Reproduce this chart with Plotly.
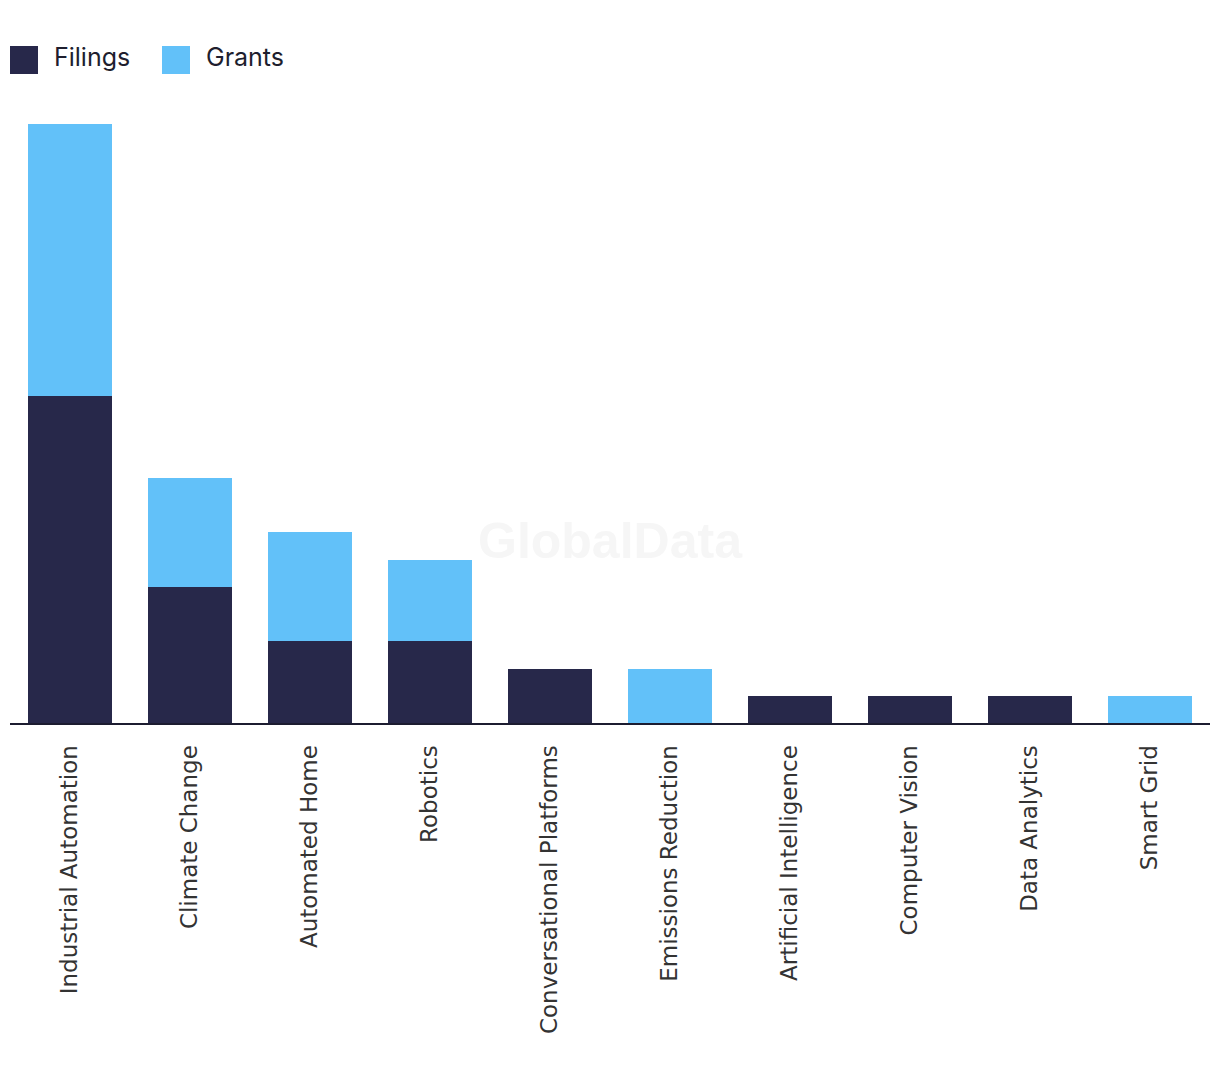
import plotly.graph_objects as go

categories = ["Industrial Automation", "Climate Change", "Automated Home", "Robotics",
              "Conversational Platforms", "Emissions Reduction", "Artificial Intelligence",
              "Computer Vision", "Data Analytics", "Smart Grid"]
filings = [12, 5, 3, 3, 2, 0, 1, 1, 1, 0]
grants = [10, 4, 4, 3, 0, 2, 0, 0, 0, 1]

NAVY = "#27284a"
BLUE = "#62c1f9"

fig = go.Figure()
fig.add_trace(go.Bar(x=categories, y=filings, name="Filings", marker_color=NAVY,
                     marker_line_width=0, showlegend=False))
fig.add_trace(go.Bar(x=categories, y=grants, name="Grants", marker_color=BLUE,
                     marker_line_width=0, showlegend=False))

W, H = 1220, 1080
OFF = 8  # page offset
left, right, top, bottom = 10 - OFF, 10 + OFF, 124 - OFF, 357 + OFF

fig.update_layout(
    width=W, height=H, barmode="stack", bargap=0.3,
    plot_bgcolor="white", paper_bgcolor="white",
    margin=dict(l=left, r=right, t=top, b=bottom, autoexpand=False),
    xaxis=dict(showline=True, linecolor="#1c1c30", linewidth=2, tickangle=-90,
               tickfont=dict(family="DejaVu Sans", size=23, color="#333333"),
               ticks="outside", ticklen=11, tickcolor="rgba(0,0,0,0)", showgrid=False,
               automargin=False),
    yaxis=dict(range=[0, 22], visible=False, showgrid=False, zeroline=False),
)

def px_x(p):
    return (p - OFF - left) / (W - left - right)

def px_y(p):
    return (H - bottom - (p - OFF)) / (H - top - bottom)

# watermark
fig.add_annotation(text="<b>GlobalData</b>", xref="paper", yref="paper", x=px_x(610), y=px_y(541),
                   showarrow=False, font=dict(family="Liberation Sans, Arial", size=50, color="#f6f6f6"),
                   xanchor="center", yanchor="middle")

# custom legend
for x0, color, label in [(10, NAVY, "Filings"), (162, BLUE, "Grants")]:
    fig.add_shape(type="rect", xref="paper", yref="paper",
                  x0=px_x(x0), x1=px_x(x0 + 28), y0=px_y(74), y1=px_y(46),
                  fillcolor=color, line_width=0)
    fig.add_annotation(text=label, xref="paper", yref="paper", x=px_x(x0 + 42), y=px_y(57),
                       xanchor="left", yanchor="middle", showarrow=False,
                       font=dict(family="Inter, Lato, sans-serif", size=25, color="#1e1e2e"))

fig.write_html("out.html")
